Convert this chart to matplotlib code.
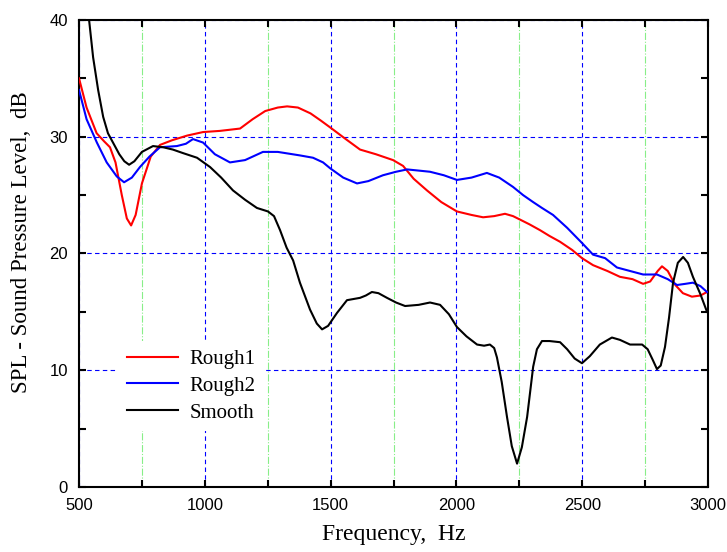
import matplotlib.pyplot as plt
from matplotlib.ticker import MultipleLocator

# Rough1 (red)
f_r1 = [500, 530, 570, 600, 623, 645, 670, 690, 707, 725, 750, 785, 822, 870, 930, 993, 1060,
        1140, 1190, 1240, 1290, 1327, 1370, 1420, 1460, 1498, 1560, 1617, 1680, 1748, 1788,
        1830, 1883, 1940, 2002, 2060, 2106, 2150, 2193, 2225, 2253, 2290, 2332, 2370, 2412,
        2460, 2499, 2543, 2600, 2650, 2700, 2742, 2770, 2800, 2817, 2840, 2870, 2900, 2936,
        2970, 2996]
v_r1 = [35.0, 32.5, 30.3, 29.6, 29.1, 27.8, 25.0, 23.0, 22.4, 23.3, 26.0, 28.3, 29.3, 29.7,
        30.1, 30.4, 30.5, 30.7, 31.5, 32.2, 32.5, 32.6, 32.5, 32.0, 31.4, 30.8, 29.8, 28.9,
        28.5, 28.0, 27.5, 26.4, 25.4, 24.4, 23.6, 23.3, 23.1, 23.2, 23.4, 23.2, 22.9, 22.5,
        22.0, 21.5, 21.0, 20.3, 19.6, 19.0, 18.5, 18.0, 17.8, 17.4, 17.6, 18.5, 18.9, 18.5,
        17.3, 16.6, 16.3, 16.4, 16.7]

# Rough2 (blue)
f_r2 = [500, 530, 571, 610, 650, 679, 710, 742, 780, 822, 889, 925, 953, 993, 1040, 1100, 1160,
        1231, 1290, 1378, 1430, 1470, 1498, 1550, 1605, 1650, 1708, 1760, 1804, 1850, 1895,
        1950, 2002, 2060, 2121, 2170, 2225, 2265, 2305, 2340, 2384, 2440, 2499, 2543, 2591,
        2638, 2690, 2742, 2797, 2840, 2877, 2910, 2940, 2970, 2996]
v_r2 = [34.0, 31.5, 29.5, 27.8, 26.6, 26.1, 26.5, 27.4, 28.3, 29.1, 29.2, 29.4, 29.8, 29.5,
        28.5, 27.8, 28.0, 28.7, 28.7, 28.4, 28.2, 27.8, 27.3, 26.5, 26.0, 26.2, 26.7, 27.0,
        27.2, 27.1, 27.0, 26.7, 26.3, 26.5, 26.9, 26.5, 25.7, 25.0, 24.4, 23.9, 23.3, 22.2,
        20.9, 19.9, 19.6, 18.8, 18.5, 18.2, 18.2, 17.8, 17.3, 17.4, 17.5, 17.2, 16.7]

# Smooth (black)
f_sm = [530, 540, 556, 576, 596, 615, 635, 660, 680, 699, 720, 750, 794, 834, 873, 913, 969,
        1021, 1065, 1112, 1160, 1207, 1251, 1275, 1299, 1325, 1351, 1378, 1418, 1445, 1466,
        1490, 1525, 1565, 1617, 1640, 1664, 1690, 1724, 1760, 1796, 1850, 1895, 1935, 1970,
        2002, 2040, 2082, 2110, 2133, 2150, 2161, 2180, 2201, 2220, 2241, 2260, 2281, 2295,
        2305, 2320, 2340, 2370, 2412, 2440, 2470, 2499, 2530, 2570, 2618, 2650, 2690, 2738,
        2760, 2780, 2797, 2812, 2829, 2845, 2861, 2880, 2901, 2920, 2940, 2970, 2996]
v_sm = [43.0, 40.0, 36.8, 34.0, 31.7, 30.3, 29.5, 28.5, 27.9, 27.6, 27.9, 28.7, 29.2, 29.1,
        28.9, 28.6, 28.2, 27.4, 26.5, 25.4, 24.6, 23.9, 23.6, 23.2, 22.0, 20.5, 19.4, 17.5,
        15.2, 14.0, 13.5, 13.8, 14.9, 16.0, 16.2, 16.4, 16.7, 16.6, 16.2, 15.8, 15.5, 15.6,
        15.8, 15.6, 14.8, 13.7, 12.9, 12.2, 12.1, 12.2, 11.9, 11.1, 9.0, 6.0, 3.5, 2.0, 3.4,
        6.0, 8.5, 10.3, 11.8, 12.5, 12.5, 12.4, 11.8, 11.0, 10.6, 11.2, 12.2, 12.8, 12.6,
        12.2, 12.2, 11.8, 10.9, 10.1, 10.4, 12.0, 14.5, 17.5, 19.2, 19.7, 19.2, 18.0, 16.5,
        15.0]

fig = plt.figure(figsize=(7.27, 5.52), dpi=100)
ax = fig.add_axes([0.1087, 0.1178, 0.8652, 0.846])

ax.plot(f_r1, v_r1, color='red', lw=1.5, label='Rough1', zorder=3)
ax.plot(f_r2, v_r2, color='blue', lw=1.5, label='Rough2', zorder=3)
ax.plot(f_sm, v_sm, color='black', lw=1.5, label='Smooth', zorder=3)

ax.set_xlim(500, 3000)
ax.set_ylim(0, 40)
ax.xaxis.set_major_locator(MultipleLocator(500))
ax.xaxis.set_minor_locator(MultipleLocator(250))
ax.yaxis.set_major_locator(MultipleLocator(10))
ax.yaxis.set_minor_locator(MultipleLocator(5))

ax.grid(which='major', color='blue', ls=(0, (4, 3)), lw=0.8)
ax.grid(which='minor', axis='x', color='#88ee88', ls='-.', lw=0.8)

ax.tick_params(which='both', direction='in', top=True, right=True, width=1.5, length=5)
ax.tick_params(axis='x', pad=8)
ax.tick_params(axis='y', pad=8)
for lab in ax.get_xticklabels() + ax.get_yticklabels():
    lab.set_family('Liberation Sans')
    lab.set_fontsize(12)
for s in ax.spines.values():
    s.set_linewidth(1.5)

ax.set_xlabel('Frequency,  Hz', family='Liberation Serif', fontsize=17, labelpad=8)
ax.set_ylabel('SPL - Sound Pressure Level,  dB', family='Liberation Serif', fontsize=16.5)
ax.yaxis.set_label_coords(-0.075, 0.525)

leg = ax.legend(loc='upper left', bbox_to_anchor=(0.046, 0.335), frameon=True, fancybox=False,
                edgecolor='none', facecolor='white', framealpha=1,
                prop={'family': 'Liberation Serif', 'size': 15}, handlelength=2.45,
                handletextpad=0.55, labelspacing=0.35)
leg.set_zorder(5)

plt.savefig('out.png')
